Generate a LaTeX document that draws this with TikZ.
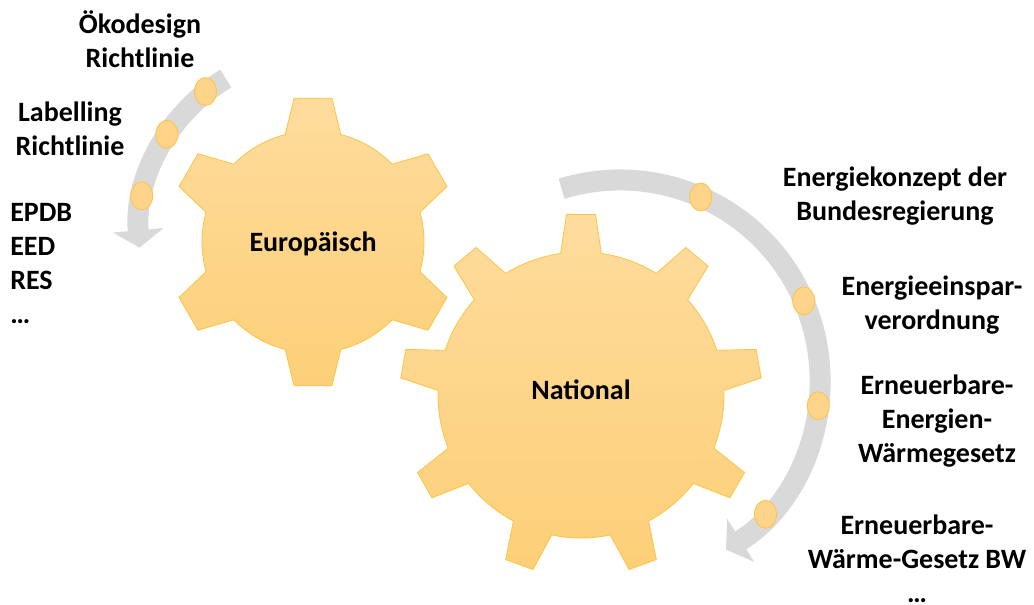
\documentclass[tikz,border=0pt]{standalone}
\usepackage{fontspec}
\setmainfont{Carlito}
\usetikzlibrary{arrows.meta, shapes}

\definecolor{gearA}{HTML}{FEDC9D}
\definecolor{gearB}{HTML}{FDCF78}
\definecolor{gearEdge}{HTML}{FBC444}
\definecolor{dotFill}{HTML}{FDD489}
\definecolor{arcGray}{HTML}{D9D9D9}

% teeth, outer radius, body radius, half angle (top), half angle (base)
\newcommand{\gearoutline}[5]{%
  ({90-#5}:#3)
  \foreach \k in {1,...,#1}{
    -- ({90+(\k-1)*360/#1-#4}:#2) -- ({90+(\k-1)*360/#1+#4}:#2)
    -- ({90+(\k-1)*360/#1+#5}:#3)
    arc[start angle={90+(\k-1)*360/#1+#5}, end angle={90+\k*360/#1-#5}, radius=#3]
  } -- cycle}

\begin{document}
\begin{tikzpicture} [x=0.75pt, y=0.75pt,
  gear/.style={top color=gearA, bottom color=gearB, draw=gearEdge, line width=0.6pt},
  band/.style={draw=arcGray, line width=15.75pt, -{Triangle[length=13pt, width=37.5pt]}},
  dot/.style={ellipse, draw=gearEdge, fill=dotFill, line width=0.6pt, inner sep=0pt,
    minimum width=16.5pt, minimum height=21pt},
  lbl/.style={font=\fontsize{21}{25.5}\selectfont\bfseries, align=center, inner sep=0pt, anchor=base}]
\useasboundingbox (0,0) rectangle (1034,-605);

\coordinate (eu) at (313,-242);
\coordinate (na) at (581,-395);
\coordinate (la) at (318,-232);
\coordinate (ra) at (620,-380);

% gears
\path [gear, shift={(eu)}] \gearoutline{6}{145}{111}{7.5}{14.5};
\path [gear, shift={(na)}] \gearoutline{9}{181}{143}{4.6}{8.2};

% rotating arrows
\draw [band] ([shift={(121:179)}]la) arc[start angle=121, end angle=185, radius=179];
\draw [band] ([shift={(107:200)}]ra) arc[start angle=107, end angle=-58, radius=200];

\node (l1) [dot] at ([shift={(128.7:180)}]la) {};
\node (l2) [dot] at ([shift={(147.1:180)}]la) {};
\node (l3) [dot] at ([shift={(168.4:180)}]la) {};
\node (r1) [dot] at ([shift={(66.2:200)}]ra) {};
\node (r2) [dot] at ([shift={(23.3:200)}]ra) {};
\node (r3) [dot] at ([shift={(-7.4:200)}]ra) {};
\node (r4) [dot] at ([shift={(-42.7:198)}]ra) {};

\node (eut) [lbl] at (313,-251.7) {Europäisch};
\node (nat) [lbl] at (581,-399) {National};

% base = last line
\node (oko) [lbl] at (140,-68) {Ökodesign\\Richtlinie};
\node (lab) [lbl] at (70,-156) {Labelling\\Richtlinie};
\node (dir) [lbl, align=left, anchor=base west] at (10,-324) {EPDB\\EED\\RES\\…};

\node (ek) [lbl] at (895,-221) {Energiekonzept der\\Bundesregierung};
\node (eev) [lbl] at (932,-330) {Energieeinspar-\\verordnung};
\node (eew) [lbl] at (937,-462) {Erneuerbare-\\Energien-\\Wärmegesetz};
\node (ewg) [lbl] at (917,-602) {Erneuerbare-\\Wärme-Gesetz BW\\…};
\end{tikzpicture}
\end{document}
